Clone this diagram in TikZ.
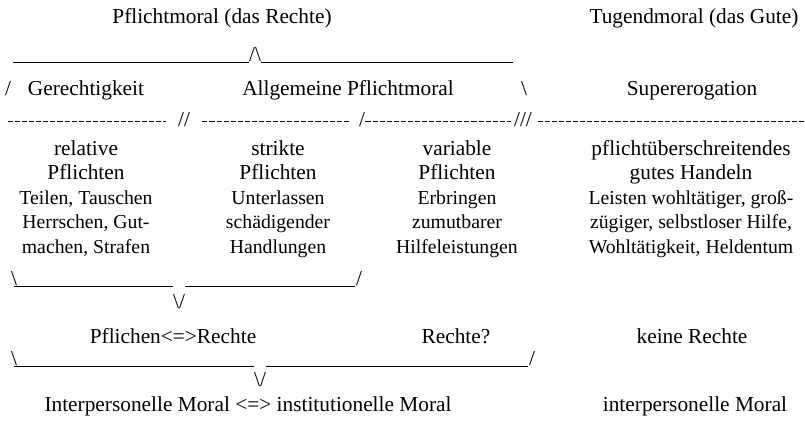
\documentclass[tikz,border=0pt]{standalone}
\usepackage{fontspec}
\setmainfont{Liberation Serif}
\begin{document}
\begin{tikzpicture}[x=0.75pt, y=-0.75pt, line width=0.7pt,
    head/.style={font=\fontsize{16}{19}\selectfont, anchor=base, inner sep=0pt},
    small/.style={font=\fontsize{14.8}{18}\selectfont, anchor=base, inner sep=0pt},
    glyph/.style={font=\fontsize{16}{19}\selectfont, anchor=base, inner sep=0pt},
    sep/.style={dash pattern=on 3.8pt off 1.5pt, line width=0.5pt}]
  \useasboundingbox (0,0) rectangle (805,427);
  \node[head] (pm) at (222,24) {Pflichtmoral (das Rechte)};
  \node[head] (tm) at (694,24) {Tugendmoral (das Gute)};
  \node[glyph] (peak) at (255,62) {/\textbackslash};
  \coordinate (topL) at (13,62);
  \coordinate (topR) at (513,62);
  \draw (topL) -- (peak.base west);
  \draw (peak.base east) -- (topR);
  \node[glyph] (openL) at (8,96) {/};
  \node[head] (ger) at (86,96) {Gerechtigkeit};
  \node[head] (apm) at (348,96) {Allgemeine Pflichtmoral};
  \node[glyph] (openR) at (524,96) {\textbackslash};
  \node[head] (sup) at (692,96) {Supererogation};
  \node[glyph] (s1) at (184,127) {//};
  \node[glyph] (s2) at (362,127) {/};
  \node[glyph] (s3) at (523,127) {///};
  \coordinate (sepL) at (8,121);
  \coordinate (sepR) at (805,121);
  \draw[sep] (sepL) -- ([xshift=-9pt]sepL -| s1.west);
  \draw[sep] ([xshift=9pt]sepL -| s1.east) -- ([xshift=-7pt]sepL -| s2.west);
  \draw[sep] (sepL -| s2.east) -- ([xshift=-2pt]sepL -| s3.west);
  \draw[sep] ([xshift=4pt]sepL -| s3.east) -- (sepR);
  \node[head] (relA) at (86,156) {relative};
  \node[head] (pflA) at (86,180) {Pflichten};
  \node[small] (a1) at (86,205) {Teilen, Tauschen};
  \node[small] (a2) at (86,229) {Herrschen, Gut-};
  \node[small] (a3) at (86,253) {machen, Strafen};
  \node[head] (strB) at (278,156) {strikte};
  \node[head] (pflB) at (278,180) {Pflichten};
  \node[small] (b1) at (278,205) {Unterlassen};
  \node[small] (b2) at (278,229) {schädigender};
  \node[small] (b3) at (278,253) {Handlungen};
  \node[head] (varC) at (457,156) {variable};
  \node[head] (pflC) at (457,180) {Pflichten};
  \node[small] (c1) at (457,205) {Erbringen};
  \node[small] (c2) at (457,229) {zumutbarer};
  \node[small] (c3) at (457,253) {Hilfeleistungen};
  \node[head] (pflD) at (691,156) {pflichtüberschreitendes};
  \node[head] (gutD) at (691,180) {gutes Handeln};
  \node[small] (d1) at (691,205) {Leisten wohltätiger, groß-};
  \node[small] (d2) at (691,229) {zügiger, selbstloser Hilfe,};
  \node[small] (d3) at (691,253) {Wohltätigkeit, Heldentum};
  \node[glyph] (endA) at (14,285) {\textbackslash};
  \node[glyph] (endB) at (359,285) {/};
  \node[glyph] (v1) at (179,308) {\textbackslash/};
  \coordinate (b1L) at (14,286);
  \coordinate (b1R) at (355,286);
  \draw (b1L) -- (b1L -| v1.west);
  \draw (b1L -| v1.east) -- (b1R);
  \node[head] (pr) at (173,343) {Pflichen<=>Rechte};
  \node[head] (rq) at (456,343) {Rechte?};
  \node[head] (kr) at (692,343) {keine Rechte};
  \node[glyph] (endC) at (14,365) {\textbackslash};
  \node[glyph] (endD) at (532,365) {/};
  \node[glyph] (v2) at (260,386) {\textbackslash/};
  \coordinate (b2L) at (14,366);
  \coordinate (b2R) at (528,366);
  \draw (b2L) -- (b2L -| v2.west);
  \draw (b2L -| v2.east) -- (b2R);
  \node[head] (im) at (248,411) {Interpersonelle Moral <=> institutionelle Moral};
  \node[head] (ipm) at (695,411) {interpersonelle Moral};
\end{tikzpicture}
\end{document}
